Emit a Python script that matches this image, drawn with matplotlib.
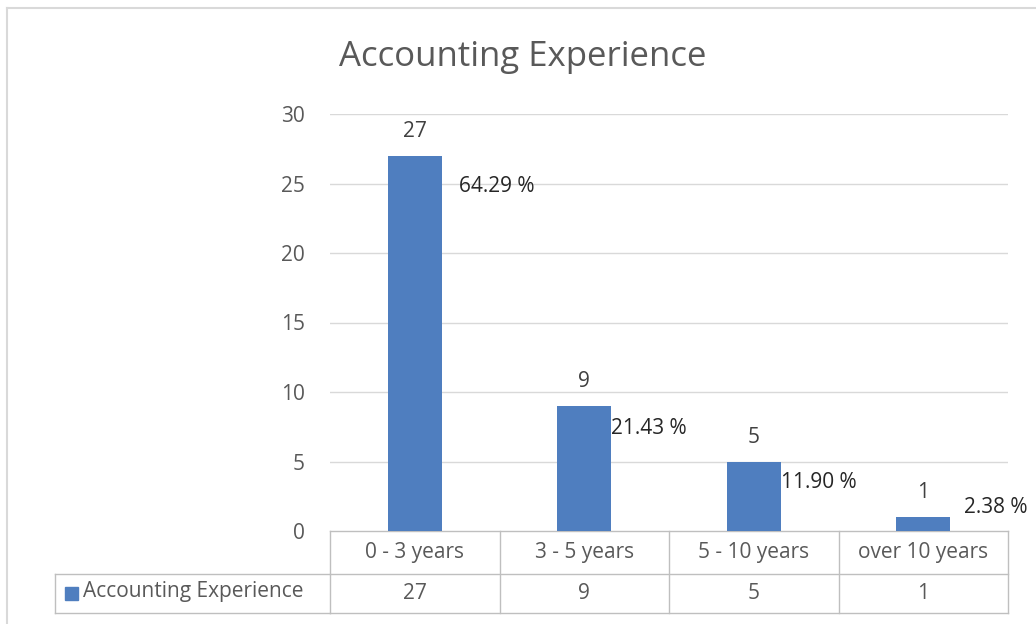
import matplotlib
matplotlib.use("Agg")
import matplotlib.pyplot as plt
from matplotlib.patches import Rectangle
from matplotlib.lines import Line2D

categories = ["0 - 3 years", "3 - 5 years", "5 - 10 years", "over 10 years"]
counts = [27, 9, 5, 1]
percents = ["64.29 %", "21.43 %", "11.90 %", "2.38 %"]
series_name = "Accounting Experience"
y_ticks = [0, 5, 10, 15, 20, 25, 30]

# offsets (points) of the percent labels from the bar's top-right corner
pct_offsets = [(12, -22), (0, -16), (0, -15), (10, 7)]

BAR = "#4F7EBF"
GRID = "#D9D9D9"
TXT = "#404040"
TICK = "#595959"
LINE = "#BFBFBF"
FS = 15

plt.rcParams["font.family"] = ["Open Sans", "DejaVu Sans"]

W, H = 1036, 624
fig = plt.figure(figsize=(W / 100, H / 100), dpi=100)

# plot area in pixels: x 330..1008, y 114..531
ax = fig.add_axes([330 / W, (H - 531) / H, 678 / W, 417 / H])
x = list(range(len(categories)))
bars = ax.bar(x, counts, width=0.32, color=BAR, zorder=3)
ax.set_xlim(-0.5, len(categories) - 0.5)
ax.set_ylim(0, 30)
ax.set_yticks(y_ticks)
ax.set_yticklabels([str(t) for t in y_ticks], fontsize=FS, color=TICK)
ax.tick_params(axis="y", length=0, pad=18)
ax.set_xticks([])
for s in ax.spines.values():
    s.set_visible(False)
for t in y_ticks[1:]:
    ax.axhline(t, color=GRID, lw=1, zorder=1)

for b, c, p, off in zip(bars, counts, percents, pct_offsets):
    cx = b.get_x() + b.get_width() / 2
    ax.annotate(str(c), (cx, c), xytext=(0, 10), textcoords="offset points",
                ha="center", va="bottom", fontsize=FS, color=TXT)
    ax.annotate(p, (b.get_x() + b.get_width(), c), xytext=off,
                textcoords="offset points", ha="left", va="center",
                fontsize=FS, color="#262626", annotation_clip=False)

# data table under the axis
tr = ax.get_xaxis_transform()
row1_top, row1_bot, row2_bot = 0.0, -43 / 417, -82 / 417
for yv in [row1_top, row1_bot, row2_bot]:
    ax.plot([-0.5, 3.5], [yv, yv], color=LINE, lw=1, transform=tr, clip_on=False)
for xv in [-0.5, 0.5, 1.5, 2.5, 3.5]:
    ax.plot([xv, xv], [row1_top, row2_bot], color=LINE, lw=1, transform=tr,
            clip_on=False)
for xi, cat, c in zip(x, categories, counts):
    ax.text(xi, (row1_top + row1_bot) / 2, cat, transform=tr, ha="center",
            va="center", fontsize=FS, color=TICK)
    ax.text(xi, (row1_bot + row2_bot) / 2, str(c), transform=tr, ha="center",
            va="center", fontsize=FS, color=TICK)

# series label cell
ff = fig.transFigure
fig.lines.append(Line2D([55 / W, 330 / W], [(H - 574) / H] * 2, color=LINE, lw=1,
                        transform=ff))
fig.lines.append(Line2D([55 / W, 330 / W], [(H - 613) / H] * 2, color=LINE, lw=1,
                        transform=ff))
fig.lines.append(Line2D([55 / W, 55 / W], [(H - 574) / H, (H - 613) / H],
                        color=LINE, lw=1, transform=ff))
fig.patches.append(Rectangle((65 / W, (H - 600) / H), 13 / W, 13 / H, color=BAR,
                             transform=ff))
fig.text(83 / W, (H - 592) / H, series_name, ha="left", va="center",
         fontsize=FS, color=TICK)

# title
fig.text(523 / W, (H - 57) / H, series_name, ha="center", va="center",
         fontsize=25, color=TICK)

# chart border (top and left edges visible)
fig.lines.append(Line2D([7 / W, 1], [(H - 8) / H] * 2, color="#D9D9D9", lw=1.5,
                        transform=ff))
fig.lines.append(Line2D([7 / W, 7 / W], [0, (H - 8) / H], color="#D9D9D9", lw=1.5,
                        transform=ff))

fig.savefig("out.png", dpi=100)
